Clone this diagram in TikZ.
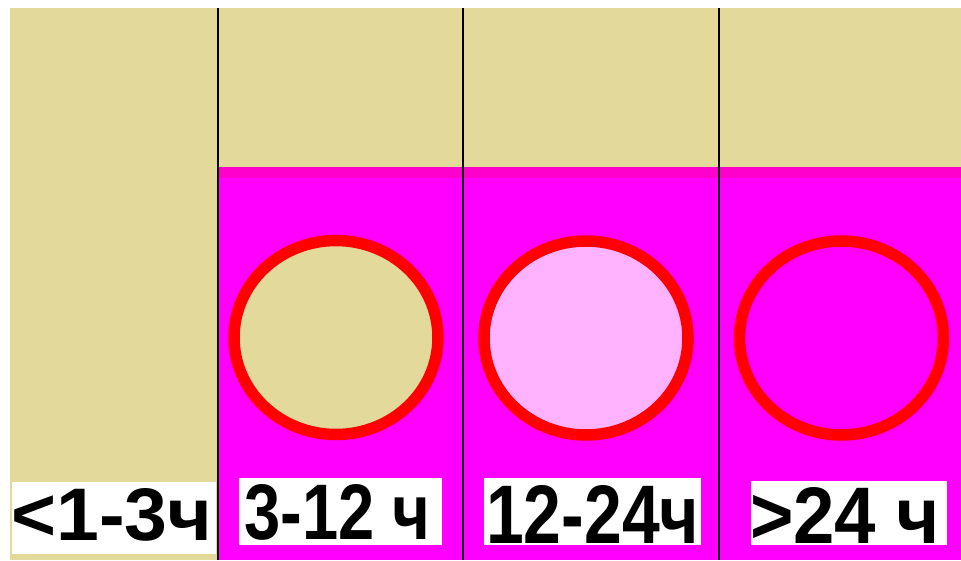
\documentclass[tikz,border=0pt]{standalone}
\usepackage{fontspec}
\setmainfont{Liberation Sans}
\usepackage{graphicx}
\usetikzlibrary{shapes.geometric}
\definecolor{beige}{RGB}{226,217,155}
\definecolor{mag}{RGB}{255,0,255}
\definecolor{magdark}{RGB}{255,0,204}
\definecolor{lightpink}{RGB}{255,179,255}
\definecolor{ringred}{RGB}{255,0,0}
\tikzset{
  divider/.style={draw=black, line width=2pt},
  ring/.style={ellipse, draw=ringred, line width=11.5pt, inner sep=0pt,
    minimum width=204pt, minimum height=194pt},
  labelbox/.style={fill=white, inner sep=0pt},
  labeltext/.style={inner sep=0pt, anchor=base west, font=\bfseries}
}
\begin{document}
\begin{tikzpicture}[x=1pt,y=-1pt]
\useasboundingbox (0,0) rectangle (961,560);
\fill[white] (0,0) rectangle (961,560);
\fill[beige] (10,8) rectangle (961,560);
\fill[mag] (219,167) rectangle (961,560);
\fill[magdark] (219,167) rectangle (961,178);
% dividers
\coordinate (d1t) at (218,8); \coordinate (d1b) at (218,560);
\coordinate (d2t) at (463,8); \coordinate (d2b) at (463,560);
\coordinate (d3t) at (719,8); \coordinate (d3b) at (719,560);
\draw[divider] (d1t) -- (d1b);
\draw[divider] (d2t) -- (d2b);
\draw[divider] (d3t) -- (d3b);
% circles
\node[ring, fill=beige] (c1) at (336,337.5) {};
\node[ring, fill=lightpink] (c2) at (586,338) {};
\node[ring] (c3) at (841.5,338) {};
% label boxes
\node[labelbox, minimum width=204pt, minimum height=72pt] (b1) at (114,518) {};
\node[labelbox, minimum width=203pt, minimum height=67pt] (b2) at (340.5,511.5) {};
\node[labelbox, minimum width=217pt, minimum height=67pt] (b3) at (592.5,511.5) {};
\node[labelbox, minimum width=196pt, minimum height=64pt] (b4) at (849,513) {};
% label texts
\node[labeltext] (t1) at (11,540) {\resizebox{201pt}{52pt}{<1-3ч}};
\node[labeltext] (t2) at (244,539) {\resizebox{186pt}{55pt}{3-12 ч}};
\node[labeltext] (t3) at (486,543) {\resizebox{213pt}{58pt}{12-24ч}};
\node[labeltext] (t4) at (750,543) {\resizebox{190pt}{56pt}{>24 ч}};
\end{tikzpicture}
\end{document}
